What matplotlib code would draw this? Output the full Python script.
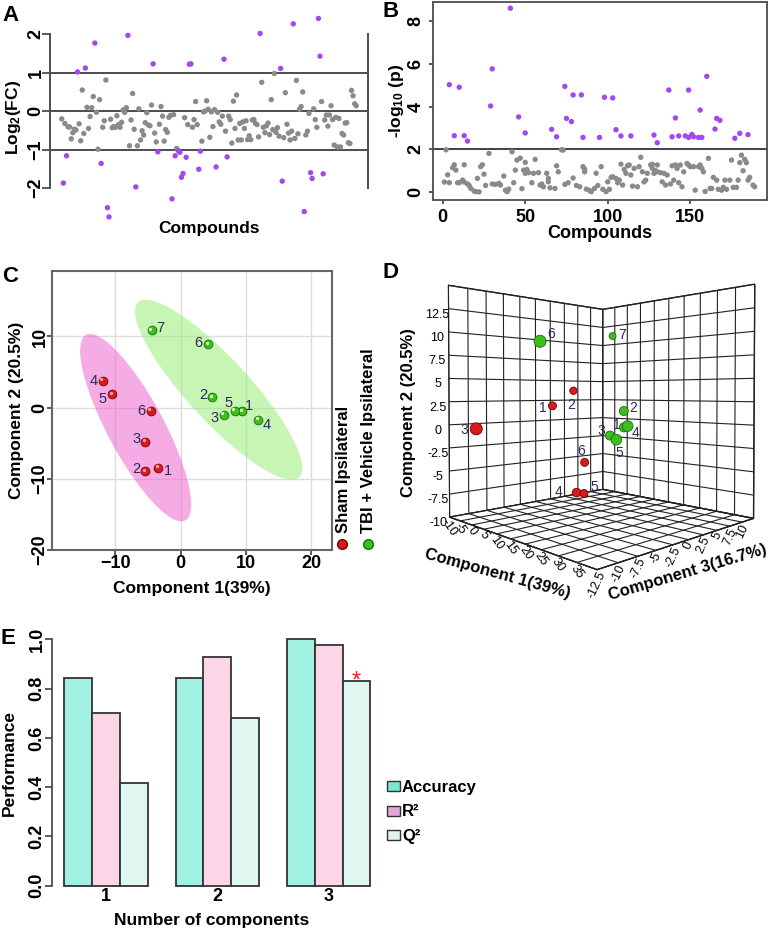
import numpy as np
import matplotlib
matplotlib.use('Agg')
import matplotlib.pyplot as plt
import matplotlib.transforms as mtransforms
from matplotlib.patches import Ellipse, Patch
from mpl_toolkits.mplot3d import proj3d

plt.rcParams['font.family'] = ['Liberation Sans', 'DejaVu Sans']
plt.rcParams['font.weight'] = 'bold'
plt.rcParams['axes.labelweight'] = 'bold'
plt.rcParams['mathtext.fontset'] = 'custom'
plt.rcParams['mathtext.rm'] = 'Liberation Sans'
plt.rcParams['mathtext.bf'] = 'Liberation Sans:bold'
plt.rcParams['mathtext.it'] = 'Liberation Sans:italic'

# ---------------- data ----------------
# A: log2 fold change per compound (compound order)
log2fc = [-0.20, -1.87, -0.32, -1.16, -0.41, -0.41, -0.72, -0.56, -0.47, -0.49,
          1.02, -0.33, -0.77, 0.55, -0.58, 1.12, 0.10, -0.45, -0.14, 0.09,
          0.38, 1.77, -0.03, -0.99, 0.30, -1.36, -0.42, -0.25, 0.81, -2.51,
          -2.75, -0.21, -0.43, -0.40, -0.42, -0.12, -0.35, -0.42, -0.29, 0.03,
          -0.03, 0.09, 1.97, -0.90, -0.23, 0.46, -0.47, -1.97, -0.90, 0.06,
          -0.75, -0.51, -0.62, -0.30, -0.04, -0.36, -0.38, 0.16, 1.23, -0.57,
          -0.80, -1.06, -0.34, 0.12, -0.13, -0.78, -0.48, -0.55, -0.16, -0.11,
          -2.28, -0.09, -1.16, -0.97, -1.03, -1.07, -1.72, -1.62, -0.17, -1.20,
          -0.35, 1.22, 1.23, -0.42, -0.22, 0.25, -0.35, -1.51, -1.04, -0.78,
          -0.02, 0.00, 0.27, 0.05, -0.68, -0.02,
          -0.40, 0.04, -1.45, -0.03, -0.28, -0.34, -0.13, 1.35, -0.52, -1.19,
          -0.13, -0.22, -0.83, 0.26, -0.45, 0.42, -0.75, -0.32, -0.75, -0.28,
          -0.45, -0.25, -0.74, -0.64, -0.74, -0.23, -0.22, -0.32, -0.35, -0.67,
          2.02, 0.75, -0.42, -0.56, -0.38, -0.31, -0.61, 0.30, -0.48, 0.98,
          -0.55, -0.43, -0.65, 1.11, -1.82, -0.69, 0.48, -0.34, -0.57, -0.75,
          -0.52, 2.27, -0.71, 0.80, -0.59, 0.05, 0.12, 0.50, -2.61, -0.62,
          -0.52, -0.06, -1.60, -1.75, 0.06, -0.22, -0.42, 2.41, 1.43, 0.25,
          -1.63, -0.23, -0.10, -0.39, -0.10, 0.14, -0.22, -0.88, -0.16, -0.93,
          -0.19, -0.93, -0.58, -0.62, -0.31, -0.30, -0.82, -0.84, 0.54, 0.40,
          0.19, 0.14]

# B: -log10(p) per compound
b_compound = [1, 2, 3, 4, 6, 7, 8, 9, 10, 12, 13, 13, 15, 16, 17, 19, 20, 21, 22, 23,
              24, 25, 26, 28, 30, 32, 34, 35, 37, 38, 39, 40, 42, 43, 44, 45, 47, 48, 49, 50,
              50, 51, 52, 54, 55, 56, 58, 59, 60, 61, 63, 64, 64, 65, 68, 69, 70, 72, 73, 74,
              76, 79, 81, 83, 85, 86, 86, 87, 89, 90, 92, 93, 94,
              96, 97, 99, 100, 101, 102, 103, 105, 106, 107, 108, 109, 110, 111, 112, 113, 114,
              115, 116, 118, 119, 120, 121, 122, 123, 124, 126, 127, 127, 128, 129, 130, 130,
              132, 133, 134, 135, 136, 138, 139, 140, 141, 142, 143, 144, 145, 146, 148, 149,
              150, 152, 153, 155, 156, 157, 158, 159, 161, 162, 163, 164, 166, 167, 169, 170,
              171, 172, 174, 175, 176, 178, 179, 180, 181, 182, 183, 184, 185, 186, 188, 189,
              4, 7, 10, 13, 15, 29, 30, 41, 46, 50, 66, 69, 74, 75, 78, 79, 84, 85, 95,
              98, 103, 105, 108, 114, 128, 130, 137, 139, 141, 143, 147, 149, 149, 151, 152,
              155, 156, 157, 160, 165, 166, 168, 177, 180, 185]
b_logp = [0.47, 1.98, 0.81, 0.44, 1.14, 1.28, 1.03, 0.44, 0.44, 0.56, 1.28, 0.47, 0.38, 0.31,
          0.17, 0.05, 0.02, 0.64, 0.01, 1.19, 1.28, 0.84, 0.31, 1.81, 0.38, 0.36, 0.41, 0.33,
          0.75, 0.09, 0.02, 0.14, 1.89, 0.44, 1.03, 1.50, 1.59, 0.16, 1.03, 1.39, 0.88, 1.06,
          0.91, 0.44, 0.88, 1.53, 0.91, 0.33, 0.38, 0.25, 0.88, 0.64, 0.48, 0.20, 0.17, 1.23,
          0.95, 1.98, 1.97, 0.36, 0.44, 0.66, 0.31, 0.25, 1.19, 1.08, 0.95, 0.14, 0.08, 0.02,
          0.17, 0.88, 0.31,
          1.19, 0.13, 0.02, 0.48, 0.13, 0.69, 0.72, 0.64, 0.44, 0.56, 1.31, 0.33, 1.06, 0.88,
          1.23, 1.27, 0.80, 0.28, 1.11, 0.25, 1.19, 1.63, 0.95, 0.48, 0.56, 0.88, 1.27, 1.30,
          1.11, 0.88, 1.00, 1.27, 0.95, 0.91, 0.48, 0.88, 0.33, 0.80, 0.38, 1.23, 0.56, 1.27,
          1.11, 0.44, 1.27, 0.25, 0.95, 1.34, 1.27, 1.19, 1.19, 0.09, 1.19, 1.27, 1.11, 0.95,
          0.03, 1.58, 0.17, 0.17, 0.69, 0.56, 0.13, 0.09, 0.22, 0.56, 0.13, 0.56, 1.50, 0.22,
          0.22, 0.56, 1.38, 1.73, 1.00, 1.53, 1.38, 0.56, 0.69, 0.33, 0.25,
          5.03, 2.64, 4.91, 2.64, 2.39, 4.03, 5.77, 8.61, 3.52, 2.77, 2.94, 2.59, 4.95, 3.45,
          3.30, 4.55, 4.55, 2.56, 2.56,
          4.44, 4.41, 2.92, 2.63, 2.63, 2.67, 2.31, 4.78, 2.59, 3.47, 2.63, 2.63, 2.56, 4.78,
          2.70, 2.59, 2.56, 3.84, 2.56, 5.42, 2.95, 3.45, 3.36, 2.52, 2.75, 2.69]

# C: 2D scores (samples 1..n)
sham_c1 = [-3.4, -5.4, -5.4, -11.95, -10.5, -4.6]
sham_c2 = [-8.45, -8.9, -4.8, 3.8, 1.93, -0.42]
tbi_c1 = [9.4, 4.8, 6.6, 11.9, 8.3, 4.2, -4.4]
tbi_c2 = [-0.5, 1.45, -1.0, -1.7, -0.42, 8.9, 10.9]

# D: 3D scores (component 1, 2, 3)
sham3_c1 = [3.4, -1.1, 0.75, -5.8, -4.35, -1.6]
sham3_c2 = [2.0, 3.7, -0.2, -9.3, -9.4, -5.2]
sham3_c3 = [-2.5, 2.8, -12.1, 5.4, 6.1, 5.0]
tbi3_c1 = [20.0, 18.75, 19.0, 24.25, 23.75, 13.5, 2.0]
tbi3_c2 = [-0.2, 1.5, -1.0, 0.1, -1.2, 8.5, 10.6]
tbi3_c3 = [1.25, 1.9, -0.5, -0.4, -1.9, -8.2, 8.5]

# E: performance
n_components = ['1', '2', '3']
accuracy = [0.845, 0.845, 1.0]
r2 = [0.70, 0.93, 0.977]
q2 = [0.418, 0.682, 0.831]

# ---------------- styling ----------------
PURPLE = '#a347f0'
GREY = '#8a8a8a'
DARK = '#4d4d4d'
NAVY = '#2a2a5c'
PT = 0.72  # points per pixel at 100 dpi

W, H = 771, 931
fig = plt.figure(figsize=(W / 100, H / 100), dpi=100)


def rect(l, t, r, b):
    return [l / W, 1 - b / H, (r - l) / W, (b - t) / H]


def r_yticks(ax, axis_px, tick_px, center_px, size=13):
    ax.tick_params(axis='y', length=tick_px * PT, width=1.3, color=DARK,
                   pad=(axis_px - tick_px - center_px) * PT, labelsize=size)
    plt.setp(ax.get_yticklabels(), rotation=90, va='center', ha='center')


def r_xticks(ax, tick_px, pad_px, size=13):
    ax.tick_params(axis='x', length=tick_px * PT, width=1.3, color=DARK,
                   pad=pad_px * PT, labelsize=size)
    plt.setp(ax.get_xticklabels(), va='center')


def letter(x, y, s):
    fig.text(x / W, 1 - y / H, s, fontsize=16, fontweight='bold', va='top', ha='left')


def fig_label(x, y, s, rot, size=12):
    fig.text(x / W, 1 - y / H, s, rotation=rot, rotation_mode='anchor',
             ha='center', va='center', fontsize=size, fontweight='bold')


# ---------------- A ----------------
axA = fig.add_axes(rect(50, 10, 368, 225))
fc = np.array(log2fc)
n = len(fc)
idx = np.arange(1, n + 1)
axA.scatter(idx, fc, s=15, linewidths=0, zorder=3,
            c=np.where(np.abs(fc) > 1, PURPLE, GREY))
for h in (-1, 0, 1):
    axA.axhline(h, color=DARK, lw=1.4, zorder=1)
axA.set_xlim(1 - 0.04 * (n - 1), n + 0.04 * (n - 1))
axA.set_ylim(-2.96, 2.63)
for s in ('top', 'bottom'):
    axA.spines[s].set_visible(False)
for s in ('left', 'right'):
    axA.spines[s].set_bounds(-2, 2)
    axA.spines[s].set_color(DARK)
    axA.spines[s].set_linewidth(1.4)
axA.set_xticks([])
axA.set_yticks([-2, -1, 0, 1, 2])
r_yticks(axA, 50, 8, 36)
axA.set_ylabel(r'Log$_\mathbf{2}$(FC)', fontsize=12.5, va='center')
axA.yaxis.set_label_coords((13 - 50) / 318, 0.5)
axA.set_xlabel('Compounds', fontsize=12.5, va='center')
axA.xaxis.set_label_coords(0.5, (225 - 228) / 215)
letter(2, 5, 'A')

# ---------------- B ----------------
axB = fig.add_axes(rect(433, 2, 767, 200))
bc = np.array(b_compound)
bp = np.array(b_logp)
axB.scatter(bc, bp, s=15, linewidths=0, zorder=3,
            c=np.where(bp > 2, PURPLE, GREY))
axB.axhline(2, color='#333333', lw=1.3, zorder=1)
axB.set_xlim(-5.9, 196.5)
axB.set_ylim(-0.37, 8.9)
for s in axB.spines.values():
    s.set_color(DARK)
    s.set_linewidth(1.3)
axB.set_xticks([0, 50, 100, 150])
axB.set_yticks([0, 2, 4, 6, 8])
r_yticks(axB, 433, 4, 416)
r_xticks(axB, 4, 13, size=13)
axB.set_ylabel(r'-log$_\mathbf{10}$ (p)', fontsize=12.5, va='center')
axB.yaxis.set_label_coords((396 - 433) / 334, 0.5)
axB.set_xlabel('Compounds', fontsize=13, va='center')
axB.xaxis.set_label_coords(0.5, (200 - 234) / 198)
letter(382, 1, 'B')

# ---------------- C ----------------
axC = fig.add_axes(rect(52, 271, 332, 550))


def conf_ellipse(x, y, **kw):
    cov = np.cov(x, y)
    vals, vecs = np.linalg.eigh(cov)
    order = vals.argsort()[::-1]
    vals, vecs = vals[order], vecs[:, order]
    ang = np.degrees(np.arctan2(vecs[1, 0], vecs[0, 0]))
    r = np.sqrt(5.991)  # 95% chi-square, 2 dof
    return Ellipse((np.mean(x), np.mean(y)), 2 * r * np.sqrt(vals[0]),
                   2 * r * np.sqrt(vals[1]), angle=ang, **kw)


axC.add_patch(conf_ellipse(sham_c1, sham_c2, facecolor='#ee66cc', alpha=0.55,
                           edgecolor='none', zorder=1))
axC.add_patch(conf_ellipse(tbi_c1, tbi_c2, facecolor='#99ee77', alpha=0.55,
                           edgecolor='none', zorder=1))
hl = mtransforms.offset_copy(axC.transData, fig=fig, x=-1.0, y=1.0, units='points')
axC.scatter(sham_c1, sham_c2, s=40, color='#d41c1c', edgecolors='#7a0000',
            linewidths=0.6, zorder=3)
axC.scatter(sham_c1, sham_c2, s=6, color='#ff9a9a', linewidths=0, zorder=4,
            transform=hl)
axC.scatter(tbi_c1, tbi_c2, s=40, color='#3cbf1e', edgecolors='#1d6e0a',
            linewidths=0.6, zorder=3)
axC.scatter(tbi_c1, tbi_c2, s=6, color='#c8ffb0', linewidths=0, zorder=4,
            transform=hl)

sham_off = [(10, -3), (-9, 2), (-9, 3), (-9, 0), (-10, -5), (-9, 0)]
tbi_off = [(7, 5), (-9, 2), (-9, -3), (8, -5), (-6, 8), (-10, 1), (8, 2)]
for xs, ys, offs in ((sham_c1, sham_c2, sham_off), (tbi_c1, tbi_c2, tbi_off)):
    for i, (x, y) in enumerate(zip(xs, ys)):
        axC.annotate(str(i + 1), (x, y), xytext=offs[i], textcoords='offset pixels',
                     ha='center', va='center', fontsize=10.5, fontweight='normal',
                     color=NAVY, zorder=5)

axC.set_xlim(-19.7, 23.2)
axC.set_ylim(-20, 19.2)
axC.set_xticks([-10, 0, 10, 20])
axC.set_yticks([-20, -10, 0, 10])
axC.grid(True, color='#dcdcdc', lw=1.0, zorder=0)
axC.set_axisbelow(True)
for s in axC.spines.values():
    s.set_color('#666666')
    s.set_linewidth(1.5)
r_yticks(axC, 52, 5, 40)
r_xticks(axC, 5, 8)
axC.set_xlabel('Component 1(39%)', fontsize=12.5, va='center')
axC.xaxis.set_label_coords(0.5, (550 - 588) / 279)
axC.set_ylabel('Component 2 (20.5%)', fontsize=12.5, va='center')
axC.yaxis.set_label_coords((17 - 52) / 280, 0.5)

fig.text(343.5 / W, 1 - 533 / H, 'Sham Ipsilateral', rotation=90, ha='center',
         va='bottom', fontsize=12)
fig.text(368.5 / W, 1 - 533 / H, 'TBI + Vehicle Ipsilateral', rotation=90,
         ha='center', va='bottom', fontsize=12)
axC.plot([342 / W], [1 - 544 / H], 'o', ms=7, color='#d41c1c', mec='#7a0000',
         transform=fig.transFigure, clip_on=False)
axC.plot([368 / W], [1 - 544 / H], 'o', ms=7, color='#3cbf1e', mec='#1d6e0a',
         transform=fig.transFigure, clip_on=False)
letter(2, 266, 'C')

# ---------------- D ----------------
axD = fig.add_axes(rect(404.5, 229, 787.5, 584), projection='3d')
axD.patch.set_visible(False)
axD.set_proj_type('persp', focal_length=0.27)
axD.view_init(elev=1, azim=-44)
axD.set_box_aspect((1, 1, 1.08), zoom=1.05)
axD.set_xlim(-10, 40)
axD.set_ylim(-12.5, 12.5)
axD.set_zlim(-10, 15)
xt = np.arange(-10, 40.1, 5)
yt = np.arange(-12.5, 12.6, 2.5)
zt = np.arange(-10, 15.1, 2.5)
axD.set_xticks(xt)
axD.set_xticklabels(['%g' % v for v in xt[:-1]] + [''])
axD.set_yticks(yt)
axD.set_yticklabels(['%g' % v for v in yt[:-1]] + [''])
axD.set_zticks(zt)
axD.set_zticklabels(['%g' % v for v in zt[:-1]] + [''])
axD.zaxis.set_ticks_position('lower')
axD.zaxis.set_label_position('lower')
axD.tick_params(labelsize=9)
axD.tick_params(axis='x', pad=-8)
axD.tick_params(axis='y', pad=-8)
axD.tick_params(axis='z', pad=-3)
for t in axD.get_xticklabels() + axD.get_yticklabels() + axD.get_zticklabels():
    t.set_fontweight('normal')
for t in axD.get_xticklabels():
    t.set_rotation(-55)
for t in axD.get_yticklabels():
    t.set_rotation(65)
for axis in (axD.xaxis, axD.yaxis, axD.zaxis):
    axis.set_pane_color((1, 1, 1, 1))
    axis.pane.set_edgecolor('#222222')
    axis._axinfo['grid'].update(color='#222222', linewidth=0.8)
    axis._axinfo['tick'].update(inward_factor=0, outward_factor=0)
    axis.line.set_color('#222222')
fig_label(498, 574, 'Component 1(39%)', -15.5)
fig_label(688, 572, 'Component 3(16.7%)', 16.5)
fig_label(409, 413, 'Component 2 (20.5%)', 90)

sham3_size = [33, 28, 75, 39, 33, 33]
tbi3_size = [42, 42, 42, 59, 59, 75, 25]
axD.scatter(sham3_c1, sham3_c3, sham3_c2, s=sham3_size, color='#d41c1c',
            edgecolors='#7a0000', linewidths=0.6, depthshade=False)
axD.scatter(tbi3_c1, tbi3_c3, tbi3_c2, s=tbi3_size, color='#3cbf1e',
            edgecolors='#1d6e0a', linewidths=0.6, depthshade=False)

fig.canvas.draw()
M = axD.get_proj()
sham3_off = [(-10, -2), (-2, -14), (-12, -1), (-18, 1), (10, 6), (-4, 11)]
tbi3_off = [(-7, 2), (9, 3), (-9, 5), (8, -7), (3, -13), (11, 7), (10, 1)]
for xs, ys, zs, offs in ((sham3_c1, sham3_c3, sham3_c2, sham3_off),
                         (tbi3_c1, tbi3_c3, tbi3_c2, tbi3_off)):
    px, py, _ = proj3d.proj_transform(np.array(xs), np.array(ys), np.array(zs), M)
    for i in range(len(xs)):
        axD.annotate(str(i + 1), (px[i], py[i]), xytext=offs[i],
                     textcoords='offset pixels', ha='center', va='center',
                     fontsize=10, fontweight='normal', color=NAVY)
letter(382, 262, 'D')

# ---------------- E ----------------
axE = fig.add_axes(rect(51.7, 629.5, 383, 895.6))
g = np.arange(len(n_components))
left = 1 + 4 * g
bar_cols = ['#a3f2e1', '#fbd6e6', '#dff7f0']
leg_cols = ['#7ae6cc', '#e6a3d6', '#e0f5ee']
for k, vals in enumerate((accuracy, r2, q2)):
    axE.bar(left + k + 0.5, vals, width=1, color=bar_cols[k], edgecolor='#333333',
            linewidth=1.3, zorder=2)
axE.annotate('*', (left[2] + 2.5, q2[2]), xytext=(0, -7), textcoords='offset pixels',
             ha='center', va='baseline', color='#ee1c2c', fontsize=17,
             fontweight='normal')
axE.set_xlim(0.547, 12.45)
axE.set_ylim(-0.04, 1.04)
for s in ('top', 'right', 'bottom'):
    axE.spines[s].set_visible(False)
axE.spines['left'].set_bounds(0, 1)
axE.spines['left'].set_color(DARK)
axE.spines['left'].set_linewidth(1.3)
axE.set_yticks([0, 0.2, 0.4, 0.6, 0.8, 1.0])
axE.set_yticklabels(['0.0', '0.2', '0.4', '0.6', '0.8', '1.0'])
axE.set_xticks(left + 1.5)
axE.set_xticklabels(n_components)
r_yticks(axE, 51.7, 7, 37)
r_xticks(axE, 0, 1)
axE.set_xlabel('Number of components', fontsize=12.5, va='center')
axE.xaxis.set_label_coords((212 - 51.7) / 331.3, (895.6 - 921) / 266.1)
axE.set_ylabel('Performance', fontsize=12.5, va='center')
axE.yaxis.set_label_coords((9 - 51.7) / 331.3, 0.5)
handles = [Patch(facecolor=c, edgecolor='#333333', linewidth=1.0) for c in leg_cols]
axE.legend(handles, ['Accuracy', 'R²', 'Q²'], loc='center left',
           bbox_to_anchor=((387 - 51.7) / 331.3, (895.6 - 812) / 266.1),
           frameon=False, fontsize=12, handlelength=0.75, handleheight=0.55,
           handletextpad=0.15, labelspacing=0.55, borderpad=0, borderaxespad=0)
letter(1, 628, 'E')

fig.savefig('out.png', dpi=100)
